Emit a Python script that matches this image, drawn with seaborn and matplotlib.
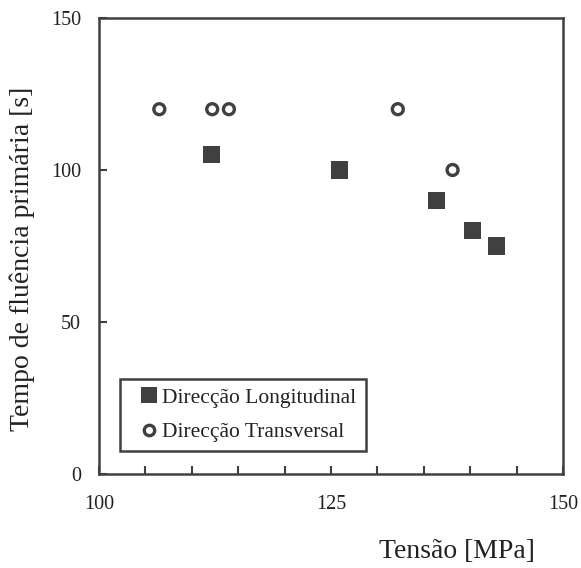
import matplotlib
matplotlib.use("Agg")
import matplotlib.pyplot as plt
import seaborn as sns
import pandas as pd
from matplotlib.lines import Line2D
from matplotlib.patches import Rectangle

sns.set_theme(style="white")
plt.rcParams['font.family'] = ['Liberation Serif', 'DejaVu Serif']

# Data
long_label = "Direcção Longitudinal"
trans_label = "Direcção Transversal"
long_x = [112.1, 125.9, 136.4, 140.3, 142.8]
long_y = [105, 100, 90, 80, 75]
trans_x = [106.5, 112.2, 114.0, 132.2, 138.1]
trans_y = [120, 120, 120, 120, 100]
x_ticks = [100, 105, 110, 115, 120, 125, 130, 135, 140, 145, 150]
x_ticklabels = ["100", "", "", "", "", "125", "", "", "", "", "150"]
y_ticks = [0, 50, 100, 150]
y_ticklabels = ["0", "50", "100", "150"]
x_title = "Tensão [MPa]"
y_title = "Tempo de fluência primária [s]"

df_long = pd.DataFrame({"x": long_x, "y": long_y})
df_trans = pd.DataFrame({"x": trans_x, "y": trans_y})

dark = "#404040"
W, H = 581, 568

fig = plt.figure(figsize=(W/100, H/100), dpi=100)
ax = fig.add_axes([99/W, 1 - 474/H, (563-99)/W, (474-18)/H])

sns.scatterplot(data=df_long, x="x", y="y", ax=ax, marker="s", s=150,
                color=dark, edgecolor="none", linewidth=0, legend=False)
sns.scatterplot(data=df_trans, x="x", y="y", ax=ax, marker="o", s=62,
                facecolors="none", edgecolors=dark, linewidth=2.4, legend=False)

ax.set_xlim(100, 150)
ax.set_ylim(0, 150)
ax.set_xticks(x_ticks)
ax.set_xticklabels(x_ticklabels)
ax.set_yticks(y_ticks)
ax.set_yticklabels(y_ticklabels)
ax.tick_params(axis="both", direction="in", length=5.5, width=1.5, color=dark,
               labelsize=14.5, labelcolor="#222222",
               bottom=True, left=True, top=False, right=False)
ax.tick_params(axis="x", pad=15)
ax.tick_params(axis="y", pad=13)
for sp in ax.spines.values():
    sp.set_color(dark)
    sp.set_linewidth(1.8)
    sp.set_visible(True)

ax.set_xlabel("")
ax.set_ylabel("")
fig.text(457/W, 1 - 552/H, x_title, ha="center", va="center",
         fontsize=20, color="#222222")
fig.text(22/W, 1 - 259/H, y_title, ha="center", va="center",
         rotation=90, fontsize=20, color="#222222")

# legend frame
fig.patches.append(Rectangle((120/W, 1 - 451/H), (366-120)/W, (451-379)/H,
                             transform=fig.transFigure, facecolor="white",
                             edgecolor=dark, linewidth=1.8, zorder=3))

handles = [
    Line2D([], [], linestyle="none", marker="s", markersize=12,
           markerfacecolor=dark, markeredgecolor=dark, markeredgewidth=0),
    Line2D([], [], linestyle="none", marker="o", markersize=7.5,
           markerfacecolor="none", markeredgecolor=dark, markeredgewidth=2.4),
]
leg = fig.legend(handles, [long_label, trans_label], loc="center left",
                 bbox_to_anchor=(140/W, 1 - 415/H),
                 frameon=False, fontsize=15.5,
                 handlelength=0.85, handletextpad=0.15, borderpad=0,
                 labelspacing=0.65, borderaxespad=0)
leg.set_zorder(4)
for t in leg.get_texts():
    t.set_color("#222222")

fig.savefig("out.png", dpi=100)
